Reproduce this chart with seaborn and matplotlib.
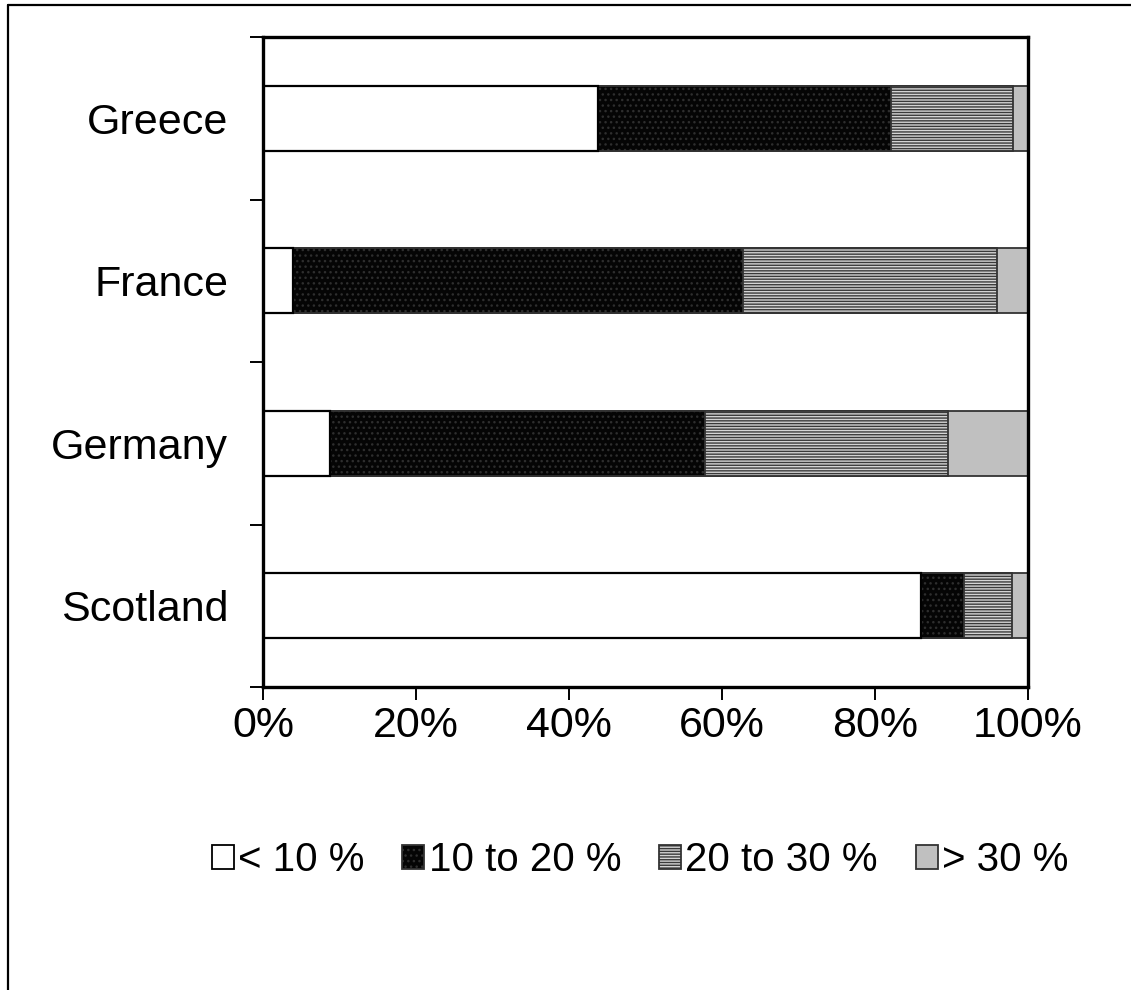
import matplotlib
matplotlib.use("Agg")
import matplotlib.pyplot as plt
from matplotlib.lines import Line2D
from matplotlib.patches import Patch
import numpy as np
import pandas as pd
import seaborn as sns

# Share of each country falling in each class (percent)
countries = ["Greece", "France", "Germany", "Scotland"]
below_10 = [43.8, 3.9, 8.8, 86.0]
from_10_to_20 = [38.3, 58.8, 49.0, 5.6]
from_20_to_30 = [15.9, 33.3, 31.7, 6.3]
above_30 = [2.0, 4.0, 10.5, 2.1]

class_labels = ["< 10 %", "10 to 20 %", "20 to 30 %", "> 30 %"]
x_ticks = [0, 20, 40, 60, 80, 100]
x_tick_labels = ["0%", "20%", "40%", "60%", "80%", "100%"]

sns.set_style("white")
plt.rcParams["font.family"] = ["Liberation Sans", "DejaVu Sans"]
plt.rcParams["hatch.linewidth"] = 1.0
plt.rcParams["text.color"] = "black"
plt.rcParams["xtick.color"] = "black"
plt.rcParams["ytick.color"] = "black"

fig = plt.figure(figsize=(11.31, 9.9), dpi=100)
ax = fig.add_axes([0.2325, 0.306, 0.909 - 0.2325, 0.9626 - 0.306])

series = [below_10, from_10_to_20, from_20_to_30, above_30]
cum = np.cumsum(np.array(series), axis=0)

# style per class: face colour, hatch, hatch colour, edge colour
styles = [
    ("#ffffff", None, None, "#000000"),
    ("#050505", "...", "#2e2e2e", "#333333"),
    ("#d4d4d4", "------", "#3a3a3a", "#333333"),
    ("#c0c0c0", None, None, "#333333"),
]

# Draw cumulative totals from the widest to the narrowest so each
# class shows as its own segment of the stacked bar.
for i in range(len(series) - 1, -1, -1):
    df = pd.DataFrame({"country": countries, "value": cum[i]})
    before = len(ax.patches)
    sns.barplot(data=df, x="value", y="country", orient="h", ax=ax,
                color=styles[i][0], width=0.4, saturation=1)
    face, hatch, hcol, edge = styles[i]
    for p in ax.patches[before:]:
        p.set_facecolor(face)
        p.set_edgecolor(edge)
        p.set_linewidth(1.6 if i == 0 else 1.3)
        if hatch:
            p.set_hatch(hatch)
            p._hatch_color = matplotlib.colors.to_rgba(hcol)

ax.set_xlim(0, 100)
ax.set_ylim(3.5, -0.5)
ax.set_xlabel("")
ax.set_ylabel("")

ax.set_xticks(x_ticks)
ax.set_xticklabels(x_tick_labels, fontsize=31, color="black")
ax.tick_params(axis="x", direction="out", length=9.5, width=1.4,
               pad=4, bottom=True, color="black")

ax.set_yticks(range(len(countries)))
ax.set_yticklabels(countries, fontsize=31, color="black")
ax.set_yticks(np.arange(-0.5, len(countries), 1.0), minor=True)
ax.tick_params(axis="y", which="major", length=0, pad=25)
ax.tick_params(axis="y", which="minor", direction="out", length=9.5,
               width=1.4, left=True, color="black")

for s in ax.spines.values():
    s.set_visible(True)
    s.set_color("black")
    s.set_linewidth(2.4)

handles = []
for face, hatch, hcol, edge in styles:
    h = Patch(facecolor=face, edgecolor="#000000" if face == "#ffffff" else "#333333",
              hatch=hatch, linewidth=1.3)
    if hatch:
        h._hatch_color = matplotlib.colors.to_rgba(hcol)
    handles.append(h)

fig.legend(handles, class_labels, loc="center", bbox_to_anchor=(0.566, 0.131),
           ncol=4, frameon=False, fontsize=29, handlelength=0.55,
           handleheight=0.55, handletextpad=0.1, columnspacing=0.95,
           labelcolor="black")

# outer frame line along the left and top edges
fig.add_artist(Line2D([8 / 1131, 8 / 1131], [0, 1 - 5 / 990],
                      transform=fig.transFigure, color="black", lw=1.6))
fig.add_artist(Line2D([8 / 1131, 1], [1 - 5 / 990, 1 - 5 / 990],
                      transform=fig.transFigure, color="black", lw=1.6))

fig.savefig("out.png", dpi=100, facecolor="white")
